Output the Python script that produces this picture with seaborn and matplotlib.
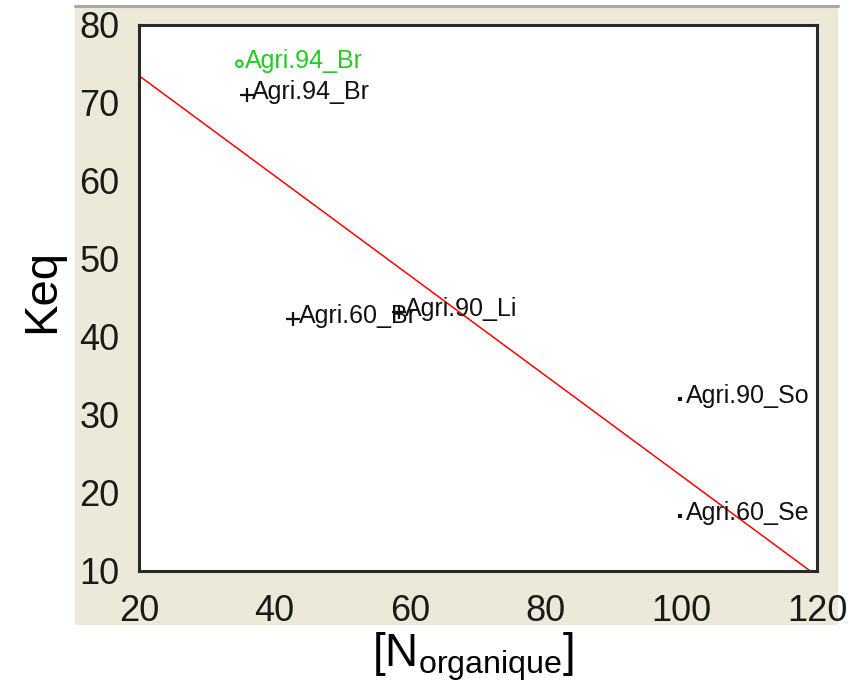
import numpy as np
import pandas as pd
import matplotlib
matplotlib.use("Agg")
import matplotlib.pyplot as plt
from matplotlib.patches import Rectangle
from matplotlib.lines import Line2D
import seaborn as sns

# --- data -------------------------------------------------------------
labels = ["Agri.94_Br", "Agri.94_Br", "Agri.60_Br", "Agri.90_Li", "Agri.90_So", "Agri.60_Se"]
n_org = [34.8, 35.9, 42.7, 58.4, 99.8, 99.8]
keq = [75.0, 71.0, 42.3, 43.2, 32.0, 17.0]
kind = ["circle", "plus", "plus", "plus", "dot", "dot"]

# fitted line Keq = a + b * (N - 20)
fit_x = [20, 120]
fit_intercept = 73.46
fit_slope = -0.6416

x_ticks = [20, 40, 60, 80, 100, 120]
y_ticks = [10, 20, 30, 40, 50, 60, 70, 80]

df = pd.DataFrame({"N": n_org, "Keq": keq, "label": labels, "kind": kind})
line_df = pd.DataFrame({"N": fit_x,
                        "Keq": [fit_intercept + fit_slope * (v - 20) for v in fit_x]})

# --- style --------------------------------------------------------------
sns.set_theme(style="white")
plt.rcParams["font.family"] = ["Liberation Sans", "DejaVu Sans"]
plt.rcParams["mathtext.fontset"] = "custom"
plt.rcParams["mathtext.rm"] = "Liberation Sans"
plt.rcParams["mathtext.it"] = "Liberation Sans:italic"
plt.rcParams["mathtext.bf"] = "Liberation Sans:bold"

W, H = 850, 689
fig = plt.figure(figsize=(W / 100, H / 100), dpi=100, facecolor="white")

# beige panel behind the plot frame
panel_bg = "#ECE9D8"
fig.patches.append(Rectangle((75 / W, 1 - 625 / H), (838 - 75) / W, (625 - 7) / H,
                             transform=fig.transFigure, facecolor=panel_bg,
                             edgecolor="none", zorder=-2))
fig.lines.append(Line2D([75 / W, 838 / W], [1 - 6 / H, 1 - 6 / H],
                        transform=fig.transFigure, color="#A8A8A8", lw=2.2, zorder=-1))

ax = fig.add_axes([139 / W, 1 - 570.5 / H, (817 - 139) / W, (570.5 - 24.7) / H])
ax.set_zorder(2)
ax.set_facecolor("white")

# regression line
sns.lineplot(data=line_df, x="N", y="Keq", ax=ax, color="#FF0000", lw=1.1, zorder=2)

# points
circ = df[df["kind"] == "circle"]
plus = df[df["kind"] == "plus"]
dots = df[df["kind"] == "dot"]
sns.scatterplot(data=circ, x="N", y="Keq", ax=ax, marker="o", s=22,
                facecolor="none", edgecolor="#22CC22", linewidth=1.5, zorder=3)
sns.scatterplot(data=plus, x="N", y="Keq", ax=ax, marker="+", s=90,
                color="#111111", linewidth=1.6, zorder=3)
sns.scatterplot(data=dots, x="N", y="Keq", ax=ax, marker="s", s=9,
                color="#111111", linewidth=0, zorder=3)

for _, r in df.iterrows():
    col = "#22CC22" if r["kind"] == "circle" else "#111111"
    ax.annotate(r["label"], (r["N"], r["Keq"]), xytext=(4, -3),
                textcoords="offset points", fontsize=18, color=col,
                va="baseline", ha="left", zorder=4)

ax.set_xlim(20, 120)
ax.set_ylim(10, 80)
ax.set_xticks(x_ticks)
ax.set_yticks(y_ticks)
ax.set_xticklabels([str(v) for v in x_ticks])
ax.set_yticklabels([str(v) for v in y_ticks])
ax.tick_params(axis="both", direction="out", width=2, color="#222222",
               labelsize=26, labelcolor="#1a1a1a")
ax.tick_params(axis="x", length=11, pad=6)
ax.tick_params(axis="y", length=10, pad=4)
ax.set_xlabel("")
ax.set_ylabel("")
for s in ax.spines.values():
    s.set_color("#2a2a2a")
    s.set_linewidth(2.2)
    s.set_visible(True)

fig.text(42 / W, 1 - 291 / H, "Keq", rotation=90, fontsize=34,
         ha="center", va="center", color="black")
fig.text(473 / W, 1 - 657 / H, r"[N$_{\mathrm{organique}}$]", fontsize=33,
         ha="center", va="center", color="black")

fig.savefig("out.png", dpi=100, facecolor="white")
